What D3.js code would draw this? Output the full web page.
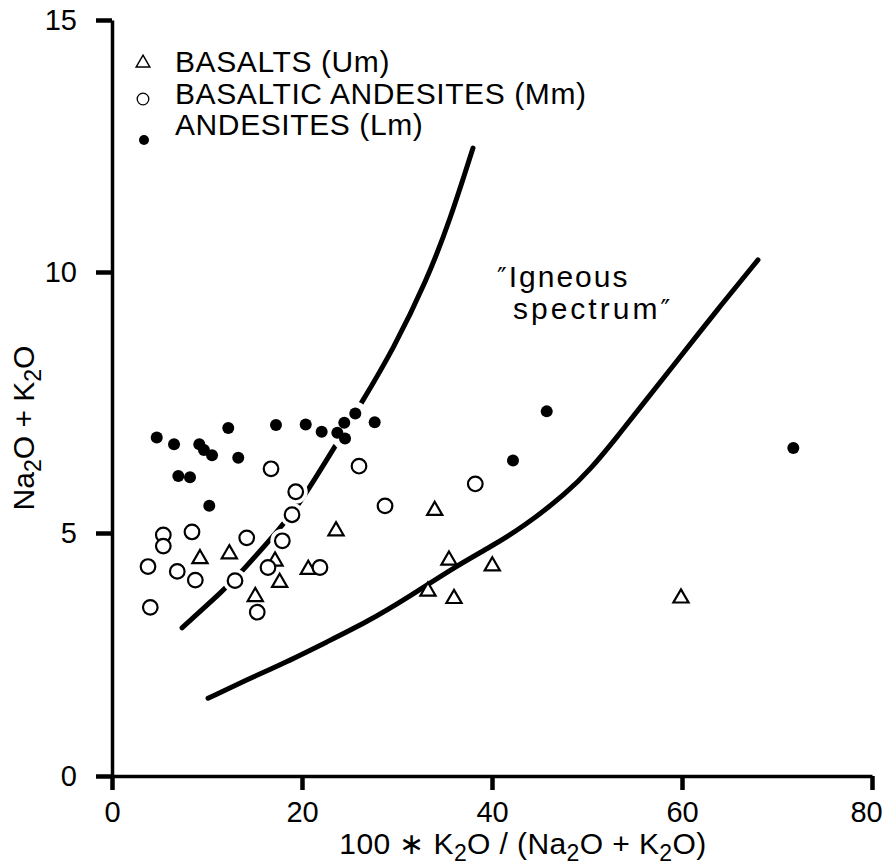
<!DOCTYPE html>
<html><head><meta charset="utf-8">
<script src="https://cdn.jsdelivr.net/npm/d3@7"></script>
<style>body{margin:0;background:#fff}svg{display:block}</style>
</head><body><svg id="c" width="887" height="865"></svg>
<script>
// ---- data ----
const xTicks = [0, 20, 40, 60, 80];
const yTicks = [0, 5, 10, 15];
const legendLabels = ["BASALTS (Um)", "BASALTIC ANDESITES (Mm)", "ANDESITES (Lm)"];
const basalts = [[23.58,5.04],[9.26,4.47],[12.35,4.57],[17.16,4.42],[20.66,4.25],[17.65,3.98],[15.08,3.69],
  [33.97,5.43],[35.47,4.44],[40.03,4.32],[33.26,3.80],[36.0,3.65],[59.89,3.66]];
const basalticAndesites = [[16.74,6.23],[19.34,5.79],[18.95,5.35],[17.93,4.84],[14.18,4.90],[8.42,5.02],
  [5.40,4.96],[5.40,4.73],[3.79,4.31],[6.87,4.21],[8.77,4.03],[12.95,4.02],[16.42,4.29],[21.89,4.29],
  [4.03,3.47],[15.29,3.37],[26.0,6.28],[28.74,5.52],[38.24,5.94]];
const andesites = [[4.71,6.83],[6.53,6.70],[9.19,6.70],[9.68,6.59],[10.53,6.49],[12.24,7.01],[13.29,6.44],
  [6.98,6.09],[8.21,6.07],[10.24,5.52],[17.26,7.07],[20.39,7.08],[22.07,6.94],[24.45,7.11],[25.61,7.29],
  [23.72,6.92],[24.53,6.81],[27.65,7.12],[45.76,7.33],[42.21,6.39],[71.72,6.63]];
const leftCurve = [[7.37,3.05],[11.68,3.81],[13.47,4.16],[17.79,5.11],[19.79,5.57],[23.68,6.72],[26.32,7.51],
  [29.58,8.51],[33.16,9.85],[35.58,11.03],[38.0,12.46]];
const rightCurve = [[10.11,1.60],[14.21,1.98],[18.42,2.35],[22.63,2.76],[26.84,3.17],[31.05,3.66],[35.89,4.28],
  [39.79,4.71],[43.26,5.11],[47.89,5.77],[50.32,6.21],[53.16,6.84],[55.58,7.40],[59.79,8.37],[63.68,9.27],[68.0,10.24]];

// ---- drawing ----
const FONT = "'Liberation Sans', Arial, sans-serif";
const svg = d3.select("#c");
svg.append("rect").attr("width",887).attr("height",865).attr("fill","#fff");
const x = d3.scaleLinear().domain([0, 80]).range([112, 872]);
const y = d3.scaleLinear().domain([0, 5, 10, 15]).range([776, 533, 272, 20]);

// axes
const gx = svg.append("g").attr("transform", `translate(0,${y(0)})`)
  .call(d3.axisBottom(x).tickValues(xTicks).tickSize(14).tickSizeOuter(0).tickPadding(11));
const gy = svg.append("g").attr("transform", `translate(${x(0)},0)`)
  .call(d3.axisLeft(y).tickValues(yTicks).tickSize(16).tickSizeOuter(0).tickPadding(19));
[gx, gy].forEach(g => {
  g.attr("font-family", FONT).attr("font-size", 29);
  g.select(".domain").attr("stroke", "#000").attr("stroke-width", 3.5);
  g.selectAll(".tick line").attr("stroke", "#000").attr("stroke-width", 4.5);
  g.selectAll(".tick text").attr("fill", "#000");
});
gx.selectAll(".tick text").filter(d => d === xTicks[xTicks.length - 1]).attr("dx", -6);

const smooth = d3.line().x(d => x(d[0])).y(d => y(d[1])).curve(d3.curveBasis);
const plot = svg.append("g");
plot.append("path").datum(leftCurve).attr("d", smooth).attr("fill","none").attr("stroke","#000")
  .attr("stroke-width",5).attr("stroke-linecap","round");

const tri = d3.symbol().type(d3.symbolTriangle).size(100);
// white halos around symbols interrupt the left curve
const halo = plot.append("g").attr("fill","#fff").attr("stroke","#fff");
halo.selectAll("circle").data(basalticAndesites.concat(andesites)).join("circle")
  .attr("cx", d => x(d[0])).attr("cy", d => y(d[1])).attr("r", 8).attr("stroke-width", 8);
halo.selectAll("path").data(basalts).join("path").attr("d", tri)
  .attr("transform", d => `translate(${x(d[0])},${y(d[1])})`).attr("stroke-width", 8);

plot.append("path").datum(rightCurve).attr("d", smooth).attr("fill","none").attr("stroke","#000")
  .attr("stroke-width",5).attr("stroke-linecap","round");

plot.append("g").selectAll("path").data(basalts).join("path").attr("d", tri)
  .attr("transform", d => `translate(${x(d[0])},${y(d[1])})`)
  .attr("fill","#fff").attr("stroke","#000").attr("stroke-width",2.2);
plot.append("g").selectAll("circle").data(basalticAndesites).join("circle")
  .attr("cx", d => x(d[0])).attr("cy", d => y(d[1])).attr("r", 7.3)
  .attr("fill","#fff").attr("stroke","#000").attr("stroke-width",2.2);
plot.append("g").selectAll("circle").data(andesites).join("circle")
  .attr("cx", d => x(d[0])).attr("cy", d => y(d[1])).attr("r", 6).attr("fill","#000");

// legend
const leg = svg.append("g").attr("font-family", FONT).attr("font-size", 30).attr("fill","#000")
  .attr("letter-spacing", 0.6);
const legText = [72, 104, 135];
legendLabels.forEach((t, i) => {
  leg.append("text").attr("x", 175).attr("y", legText[i]).text(t);
});
leg.append("path").attr("d", d3.symbol().type(d3.symbolTriangle).size(80))
  .attr("transform","translate(143,63)").attr("fill","#fff").attr("stroke","#000").attr("stroke-width",1.5);
leg.append("circle").attr("cx",143).attr("cy",99).attr("r",5.8).attr("fill","#fff").attr("stroke","#000").attr("stroke-width",1.3);
leg.append("circle").attr("cx",144).attr("cy",140).attr("r",5).attr("fill","#000");

// annotation
const ann = svg.append("g").attr("font-family", FONT).attr("font-size", 30).attr("fill","#000").attr("letter-spacing", 2);
const a1 = ann.append("text").attr("x", 497).attr("y", 287);
a1.append("tspan").attr("font-family","'DejaVu Sans'").attr("font-size",26).text("\u2033");
a1.append("tspan").text("Igneous");
const a2 = ann.append("text").attr("x", 513).attr("y", 319).attr("letter-spacing", 3);
a2.append("tspan").text("spectrum");
a2.append("tspan").attr("font-family","'DejaVu Sans'").attr("font-size",26).text("\u2033");

// axis titles
function sub(t, parts) {
  parts.forEach(p => {
    if (p.s) t.append("tspan").attr("font-size", 23).attr("dy", 7).text(p.s);
    else t.append("tspan").attr("dy", p.up ? -7 : 0).text(p.t);
  });
}
const xl = svg.append("text").attr("x", 523).attr("y", 854).attr("text-anchor","middle")
  .attr("font-family", FONT).attr("font-size", 30).attr("letter-spacing", 0.4).attr("fill","#000");
sub(xl, [{t:"100 \u2217 K"},{s:"2"},{t:"O / (Na", up:1},{s:"2"},{t:"O + K", up:1},{s:"2"},{t:"O)", up:1}]);
const yl = svg.append("text").attr("transform","translate(34,428) rotate(-90)").attr("text-anchor","middle")
  .attr("font-family", FONT).attr("font-size", 30).attr("fill","#000");
sub(yl, [{t:"Na"},{s:"2"},{t:"O + K", up:1},{s:"2"},{t:"O", up:1}]);
</script></body></html>
